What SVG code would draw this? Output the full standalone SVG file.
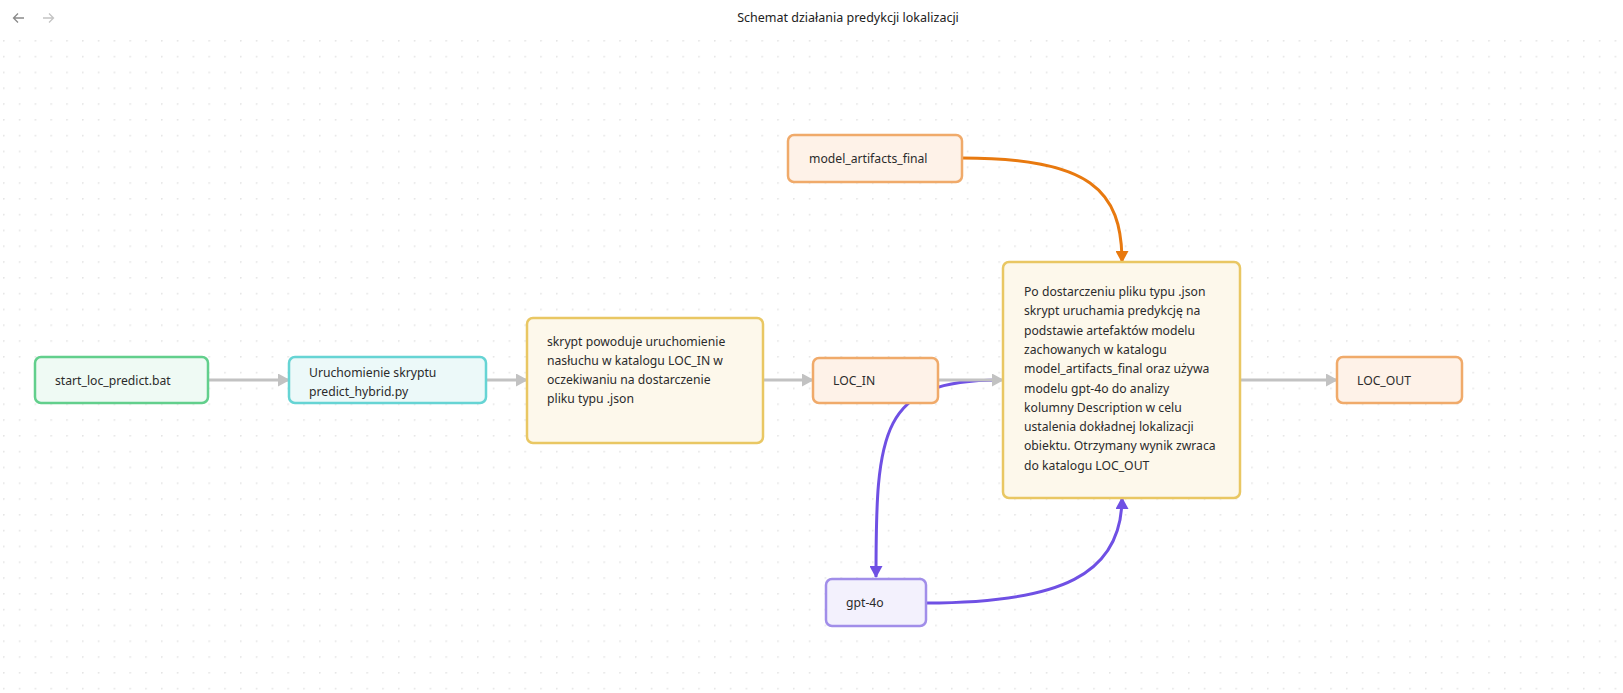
<svg xmlns="http://www.w3.org/2000/svg" width="1623" height="693" viewBox="0 0 1623 693">
<style>
.t{font-family:"Noto Sans","Open Sans",sans-serif;font-size:12.2px;fill:#2b2b2b}
.title{font-family:"Noto Sans","Open Sans",sans-serif;font-size:12.5px;fill:#222}
.n rect{stroke-width:2.5}
.green rect{fill:#effaf4;stroke:#62cf8c}
.cyan rect{fill:#ecf9f9;stroke:#66d4d4}
.yellow rect{fill:#fdf8eb;stroke:#e9c763}
.orange rect{fill:#fef2e8;stroke:#f0aa6a}
.purple rect{fill:#f3f1fd;stroke:#a18ee9}
.e{fill:none;stroke-width:3}
.gray{stroke:#c2c2c2}
.org{stroke:#e8790f}
.pur{stroke:#6f50e4}
</style>
<defs>
<pattern id="dots" x="3" y="40" width="15.8" height="15.8" patternUnits="userSpaceOnUse">
<circle cx="0.8" cy="0.8" r="0.85" fill="#e2e2e2"/>
</pattern>
<marker id="ag" markerUnits="userSpaceOnUse" markerWidth="12" markerHeight="13" refX="11" refY="6.5" orient="auto"><path d="M0,0 L12,6.5 L0,13 Z" fill="#c2c2c2"/></marker>
<marker id="ao" markerUnits="userSpaceOnUse" markerWidth="12" markerHeight="13" refX="11" refY="6.5" orient="auto"><path d="M0,0 L12,6.5 L0,13 Z" fill="#e8790f"/></marker>
<marker id="ap" markerUnits="userSpaceOnUse" markerWidth="12" markerHeight="13" refX="11" refY="6.5" orient="auto"><path d="M0,0 L12,6.5 L0,13 Z" fill="#6f50e4"/></marker>
</defs>
<rect width="1623" height="693" fill="#ffffff"/>
<rect x="0" y="36" width="1623" height="657" fill="url(#dots)"/>
<g id="header">
<path d="M24,18 H14 M18,13.5 L13.5,18 L18,22.5" fill="none" stroke="#8a8a8a" stroke-width="1.3"/>
<path d="M43,18 H53 M49,13.5 L53.5,18 L49,22.5" fill="none" stroke="#c4c4c4" stroke-width="1.3"/>
<text class="title" x="848" y="22" text-anchor="middle">Schemat działania predykcji lokalizacji</text>
</g>
<g id="connectors">
<path class="e pur" d="M1000,380 C880,380 876,430 876,577" marker-end="url(#ap)"/>
<path class="e gray" d="M208,380 H289" marker-end="url(#ag)"/>
<path class="e gray" d="M486,380 H527" marker-end="url(#ag)"/>
<path class="e gray" d="M763,380 H813" marker-end="url(#ag)"/>
<path class="e gray" d="M938,380 H1003" marker-end="url(#ag)"/>
<path class="e gray" d="M1240,380 H1337" marker-end="url(#ag)"/>
<path class="e org" d="M962,158 C1090,158 1122,190 1122,262" marker-end="url(#ao)"/>
<path class="e pur" d="M926,603 C1060,603 1122,575 1122,498" marker-end="url(#ap)"/>
</g>
<g id="start" class="n green">
<rect x="35" y="357" width="173" height="46" rx="6"/>
<text class="t" x="55" y="385">start_loc_predict.bat</text>
</g>
<g id="uruchomienie" class="n cyan">
<rect x="289" y="357" width="197" height="46" rx="6"/>
<text class="t" x="309" y="377">Uruchomienie skryptu</text>
<text class="t" x="309" y="396">predict_hybrid.py</text>
</g>
<g id="nasluch" class="n yellow">
<rect x="527" y="318" width="236" height="125" rx="6"/>
<text class="t" x="547" y="346">skrypt powoduje uruchomienie</text>
<text class="t" x="547" y="365">nasłuchu w katalogu LOC_IN w</text>
<text class="t" x="547" y="384">oczekiwaniu na dostarczenie</text>
<text class="t" x="547" y="403">pliku typu .json</text>
</g>
<g id="loc_in" class="n orange">
<rect x="813" y="358" width="125" height="45" rx="6"/>
<text class="t" x="833" y="385">LOC_IN</text>
</g>
<g id="model_artifacts" class="n orange">
<rect x="788" y="135" width="174" height="47" rx="6"/>
<text class="t" x="809" y="163">model_artifacts_final</text>
</g>
<g id="predykcja" class="n yellow">
<rect x="1003" y="262" width="237" height="236" rx="6"/>
<text class="t" x="1024" y="296">Po dostarczeniu pliku typu .json</text>
<text class="t" x="1024" y="315.3">skrypt uruchamia predykcję na</text>
<text class="t" x="1024" y="334.6">podstawie artefaktów modelu</text>
<text class="t" x="1024" y="353.9">zachowanych w katalogu</text>
<text class="t" x="1024" y="373.2">model_artifacts_final oraz używa</text>
<text class="t" x="1024" y="392.5">modelu gpt-4o do analizy</text>
<text class="t" x="1024" y="411.8">kolumny Description w celu</text>
<text class="t" x="1024" y="431.1">ustalenia dokładnej lokalizacji</text>
<text class="t" x="1024" y="450.4">obiektu. Otrzymany wynik zwraca</text>
<text class="t" x="1024" y="469.7">do katalogu LOC_OUT</text>
</g>
<g id="gpt4o" class="n purple">
<rect x="826" y="579" width="100" height="47" rx="6"/>
<text class="t" x="846" y="607">gpt-4o</text>
</g>
<g id="loc_out" class="n orange">
<rect x="1337" y="357" width="125" height="46" rx="6"/>
<text class="t" x="1357" y="385">LOC_OUT</text>
</g>
</svg>
